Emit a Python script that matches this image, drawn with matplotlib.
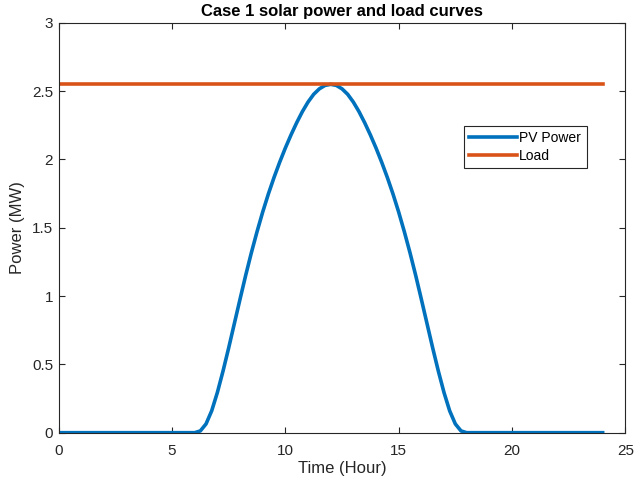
"""Case 1 solar power and load curves"""
import matplotlib
matplotlib.use("Agg")
import matplotlib.pyplot as plt
import numpy as np

# hours for the PV samples: 0, then 6..18 every 15 min, then 24
pv_hours = np.concatenate([[0.0], np.arange(6.0, 18.001, 0.25), [24.0]])
pv_power = [
    0.0,
    0.0, 0.013, 0.064, 0.160, 0.294, 0.451, 0.621, 0.799, 0.977, 1.152,
    1.317, 1.471, 1.615, 1.747, 1.868, 1.980, 2.084, 2.180, 2.269, 2.350,
    2.420, 2.477, 2.517, 2.542,
    2.550,
    2.542, 2.517, 2.477, 2.420, 2.350, 2.269, 2.180, 2.084, 1.980, 1.868,
    1.747, 1.615, 1.471, 1.317, 1.152, 0.977, 0.799, 0.621, 0.451, 0.294,
    0.160, 0.064, 0.013, 0.0,
    0.0,
]
load_hours = [0, 24]
load_power = [2.55, 2.55]

xticks = [0, 5, 10, 15, 20, 25]
yticks = [0, 0.5, 1, 1.5, 2, 2.5, 3]
ytick_labels = ["0", "0.5", "1", "1.5", "2", "2.5", "3"]

plt.rcParams["font.family"] = ["Liberation Sans", "DejaVu Sans"]
axis_color = "#262626"

fig = plt.figure(figsize=(6.34, 4.86), dpi=100)
ax = fig.add_axes([0.0926, 0.1097, 0.8937, 0.8433])

ax.plot(pv_hours, pv_power, color="#0072BD", lw=2.6, label="PV Power")
ax.plot(load_hours, load_power, color="#D95319", lw=2.6, label="Load")

ax.set_xlim(0, 25)
ax.set_ylim(0, 3)
ax.set_xticks(xticks)
ax.set_yticks(yticks)
ax.set_yticklabels(ytick_labels)
ax.tick_params(direction="in", length=4.3, width=0.8, colors=axis_color,
               labelsize=11, top=True, right=True, pad=4)
ax.tick_params(axis="x", pad=8)
for sp in ax.spines.values():
    sp.set_color(axis_color)
    sp.set_linewidth(0.8)

ax.set_xlabel("Time (Hour)", fontsize=12, color=axis_color, labelpad=2)
ax.set_ylabel("Power (MW)", fontsize=12, color=axis_color, labelpad=5)
ax.set_title("Case 1 solar power and load curves", fontsize=12,
             fontweight="bold", color="black", pad=5)

leg = ax.legend(loc="upper right", bbox_to_anchor=(0.932, 0.749),
                borderaxespad=0, fancybox=False, framealpha=1,
                edgecolor=axis_color, fontsize=10, handlelength=3.4,
                handletextpad=0.2, labelspacing=0.25, borderpad=0.4)
leg.get_frame().set_linewidth(0.8)

fig.savefig("out.png", dpi=100)
